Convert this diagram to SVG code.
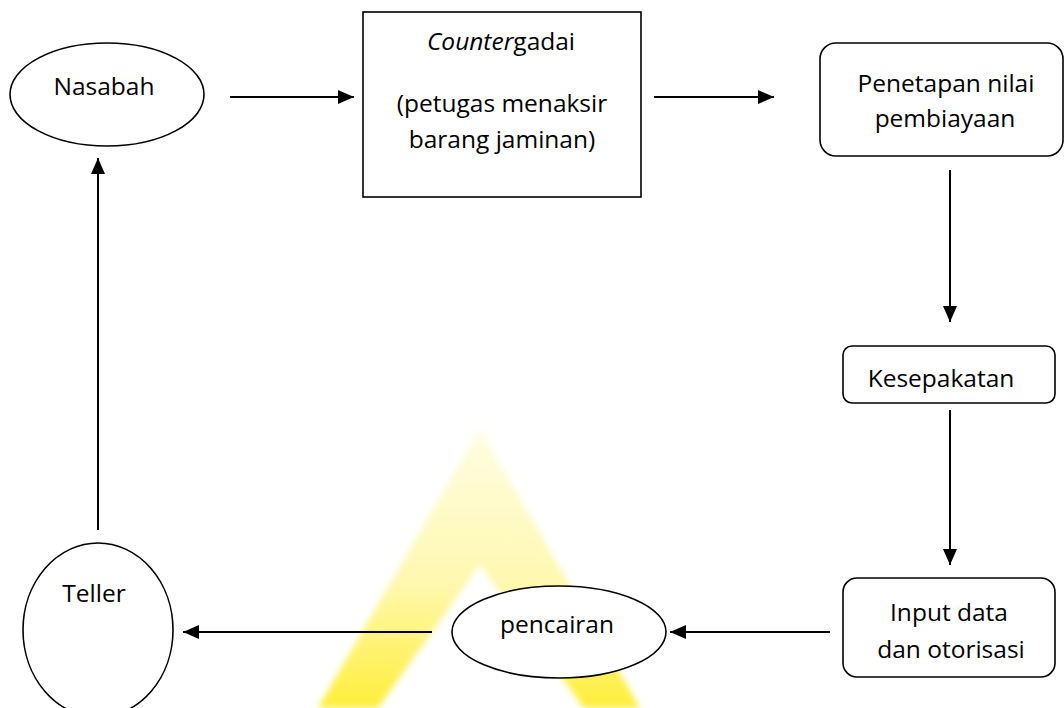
<svg xmlns="http://www.w3.org/2000/svg" width="1064" height="708" viewBox="0 0 1064 708">
  <defs>
    <style>
      .node { fill: #ffffff; stroke: #000000; stroke-width: 1.6; }
      .label { font-family: "Open Sans", "Noto Sans", sans-serif; font-size: 24.5px; fill: #000000; text-anchor: middle; }
      .edge { stroke: #000000; stroke-width: 2; fill: none; marker-end: url(#arrow); }
    </style>
    <marker id="arrow" markerUnits="userSpaceOnUse" markerWidth="16" markerHeight="14" refX="16" refY="7" orient="auto">
      <path d="M0,0 L16,7 L0,14 z" fill="#000000"/>
    </marker>
    <linearGradient id="markFill" x1="0" y1="0" x2="0" y2="1">
      <stop offset="0" stop-color="#fffde4"/>
      <stop offset="0.55" stop-color="#fff8b0"/>
      <stop offset="1" stop-color="#ffee3a"/>
    </linearGradient>
    <filter id="soft" x="-10%" y="-10%" width="120%" height="120%">
      <feGaussianBlur stdDeviation="3"/>
    </filter>
  </defs>

  <rect width="1064" height="708" fill="#ffffff"/>

  <!-- faint yellow "A" mark behind the chart -->
  <path id="mark" d="M480,428 L640,708 L318,708 Z M480,565 L378,708 L584,708 Z" fill="url(#markFill)" fill-rule="evenodd" filter="url(#soft)"/>

  <g id="connectors">
    <path class="edge" d="M230,97 L354,97"/>
    <path class="edge" d="M654,97 L774,97"/>
    <path class="edge" d="M950,170 L950,322"/>
    <path class="edge" d="M950,410 L950,565"/>
    <path class="edge" d="M830,632 L670,632"/>
    <path class="edge" d="M432,632 L183,632"/>
    <path class="edge" d="M98,530 L98,158"/>
  </g>

  <g id="nasabah">
    <ellipse class="node" cx="107" cy="94.5" rx="97" ry="51.5"/>
    <text class="label" x="104" y="95">Nasabah</text>
  </g>

  <g id="counter-gadai">
    <rect class="node" x="363" y="12" width="278" height="185"/>
    <text class="label" x="501" y="50"><tspan font-style="italic">Counter</tspan>gadai</text>
    <text class="label" x="502" y="112">(petugas menaksir</text>
    <text class="label" x="502" y="148">barang jaminan)</text>
  </g>

  <g id="penetapan">
    <rect class="node" x="820" y="43" width="243" height="113" rx="16" ry="16"/>
    <text class="label" x="946" y="92">Penetapan nilai</text>
    <text class="label" x="945" y="127">pembiayaan</text>
  </g>

  <g id="kesepakatan">
    <rect class="node" x="843" y="346" width="212" height="57" rx="9" ry="9"/>
    <text class="label" x="941" y="387">Kesepakatan</text>
  </g>

  <g id="input-data">
    <rect class="node" x="843" y="578" width="212" height="99" rx="14" ry="14"/>
    <text class="label" x="949" y="621">Input data</text>
    <text class="label" x="951" y="658">dan otorisasi</text>
  </g>

  <g id="pencairan">
    <ellipse class="node" cx="559" cy="632" rx="107" ry="46"/>
    <text class="label" x="557" y="633">pencairan</text>
  </g>

  <g id="teller">
    <ellipse class="node" cx="98" cy="630" rx="75" ry="87"/>
    <text class="label" x="94" y="602">Teller</text>
  </g>
</svg>
